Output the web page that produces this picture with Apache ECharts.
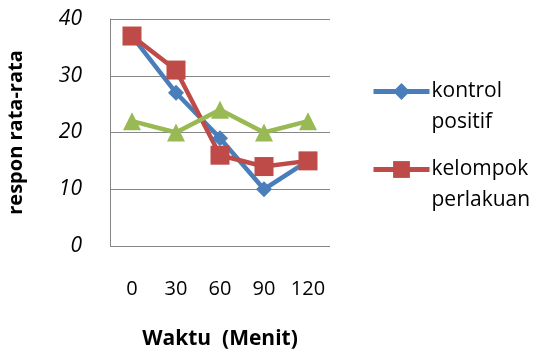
<!DOCTYPE html>
<html>
<head>
<meta charset="utf-8">
<script src="https://cdn.jsdelivr.net/npm/echarts@6/dist/echarts.min.js"></script>
<style>
  html, body { margin: 0; padding: 0; background: #fff; }
  #chart { width: 537px; height: 349px; }
</style>
</head>
<body>
<div id="chart"></div>
<script>
// Time points (minutes) and mean responses per group
const categories = ['0', '30', '60', '90', '120'];
const kontrolPositif = [37, 27, 19, 10, 15];
const kelompokPerlakuan = [37, 31, 16, 14, 15];
const kelompokKetiga = [22, 20, 24, 20, 22];

const FONT = '"Open Sans", sans-serif';
const chart = echarts.init(document.getElementById('chart'));

// One legend block per entry; an empty first line keeps the icon beside the first word
function legendBlock(name, top) {
  return {
    data: [name],
    orient: 'vertical',
    left: 366,
    top: top,
    itemWidth: 56,
    itemHeight: 21,
    itemGap: 3,
    lineStyle: { width: 5 },
    formatter: n => '\n' + n.split(' ').join('\n'),
    textStyle: { fontFamily: FONT, fontSize: 21, color: '#000', lineHeight: 31, padding: [0, 0, 0, -3] },
    selectedMode: false
  };
}

chart.setOption({
  animation: false,
  grid: { left: 110, right: 207, top: 19, bottom: 103, outerBoundsMode: 'none', containLabel: false },
  legend: [
    legendBlock('kontrol positif', 40),
    legendBlock('kelompok perlakuan', 118)
  ],
  xAxis: {
    type: 'category',
    data: categories,
    boundaryGap: true,
    name: 'Waktu  (Menit)',
    nameLocation: 'middle',
    nameGap: 83,
    nameTextStyle: { fontFamily: FONT, fontSize: 21, fontWeight: 'bold', color: '#000' },
    axisLine: { show: false },
    axisTick: { show: false },
    axisLabel: { interval: 0, fontFamily: FONT, fontSize: 20, color: '#000', margin: 33 }
  },
  yAxis: {
    type: 'value',
    min: 0,
    max: 40,
    interval: 10,
    name: 'respon rata-rata',
    nameLocation: 'middle',
    nameGap: 84,
    nameRotate: 90,
    nameTextStyle: { fontFamily: FONT, fontSize: 20, fontWeight: 'bold', color: '#000' },
    axisLine: { show: true, lineStyle: { color: '#868686', width: 1 } },
    axisTick: { show: false },
    axisLabel: { fontFamily: FONT, fontSize: 21, fontStyle: 'italic', color: '#000', margin: 28 },
    splitLine: { lineStyle: { color: '#868686', width: 1 } }
  },
  series: [
    {
      name: 'kontrol positif',
      type: 'line',
      data: kontrolPositif,
      symbol: 'diamond',
      symbolSize: 16,
      lineStyle: { color: '#4a7ebb', width: 4.5 },
      itemStyle: { color: '#4a7ebb' }
    },
    {
      name: 'kelompok perlakuan',
      type: 'line',
      data: kelompokPerlakuan,
      symbol: 'rect',
      symbolSize: 19,
      lineStyle: { color: '#be4b48', width: 4.5 },
      itemStyle: { color: '#be4b48' }
    },
    {
      name: 'kelompok lain',
      type: 'line',
      data: kelompokKetiga,
      symbol: 'triangle',
      symbolSize: 18,
      lineStyle: { color: '#98b954', width: 4.5 },
      itemStyle: { color: '#98b954' }
    }
  ]
});
</script>
</body>
</html>
